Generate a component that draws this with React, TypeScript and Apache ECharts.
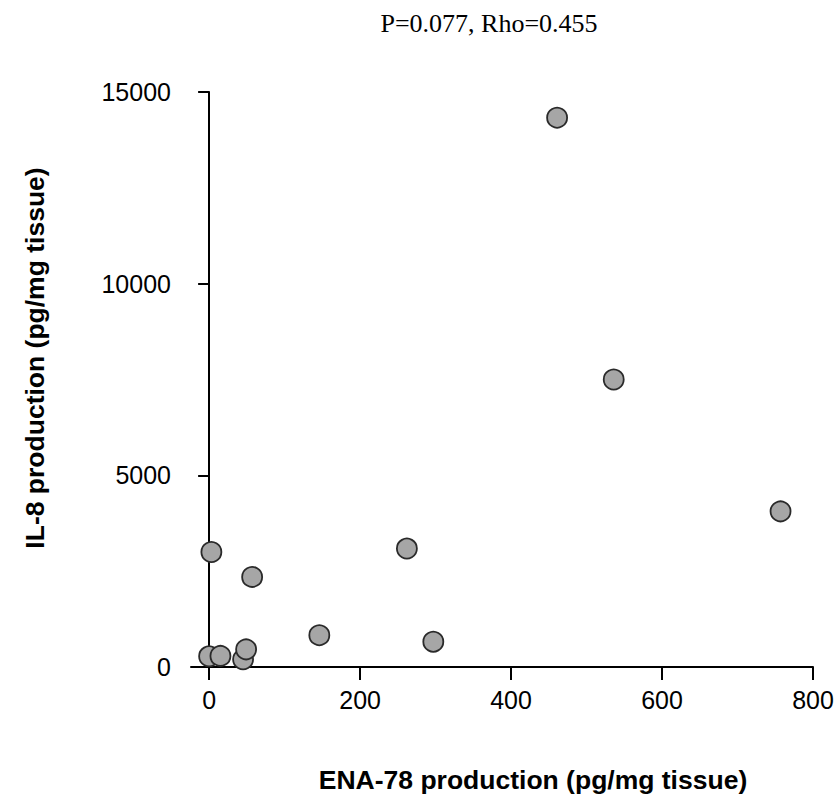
import React, { useEffect, useRef } from "react";
import * as echarts from "echarts";

const enaValues = [3, 0, 15, 45, 49, 57, 146, 262, 297, 461, 536, 757];
const il8Values = [3000, 280, 290, 200, 460, 2350, 830, 3090, 660, 14330, 7500, 4060];
const xTickValues = [0, 200, 400, 600, 800];
const titleText = "P=0.077, Rho=0.455";
const xTitle = "ENA-78 production (pg/mg tissue)";
const yTitle = "IL-8 production (pg/mg tissue)";

export default function App() {
  const ref = useRef<HTMLDivElement>(null);
  useEffect(() => {
    document.body.style.margin = "0";
    if (!ref.current) return;
    const chart = echarts.init(ref.current, undefined, { renderer: "svg" });
    const points = enaValues.map((x, i) => [x, il8Values[i]]);
    chart.setOption({
      animation: false,
      backgroundColor: "#ffffff",
      grid: { left: 191, right: 24, top: 92, bottom: 142, containLabel: false },
      xAxis: {
        type: "value",
        min: -24,
        max: 800,
        splitLine: { show: false },
        axisLine: { show: true, onZero: true, lineStyle: { color: "#000", width: 2 } },
        axisTick: {
          show: true,
          length: 13,
          customValues: xTickValues,
          lineStyle: { color: "#000", width: 2 },
        },
        axisLabel: {
          customValues: xTickValues,
          margin: 20,
          color: "#000",
          fontSize: 25,
          fontFamily: "Liberation Sans",
          formatter: (v: number) => String(v),
        },
      },
      yAxis: {
        type: "value",
        min: 0,
        max: 15000,
        interval: 5000,
        splitLine: { show: false },
        axisLine: { show: true, onZero: true, lineStyle: { color: "#000", width: 2 } },
        axisTick: { show: true, length: 11, lineStyle: { color: "#000", width: 2 } },
        axisLabel: {
          margin: 20,
          color: "#000",
          fontSize: 25,
          fontFamily: "Liberation Sans",
          formatter: (v: number) => String(v),
        },
      },
      graphic: [
        {
          type: "text",
          x: 489,
          y: 23,
          style: {
            text: titleText,
            align: "center",
            verticalAlign: "middle",
            fontSize: 26,
            fontFamily: "Liberation Serif",
            fill: "#000",
          },
        },
        {
          type: "text",
          x: 533,
          y: 780,
          style: {
            text: xTitle,
            align: "center",
            verticalAlign: "middle",
            fontSize: 26.5,
            fontWeight: "bold",
            fontFamily: "Liberation Sans",
            fill: "#000",
          },
        },
        {
          type: "text",
          x: 35,
          y: 358,
          rotation: Math.PI / 2,
          style: {
            text: yTitle,
            align: "center",
            verticalAlign: "middle",
            fontSize: 26.5,
            fontWeight: "bold",
            fontFamily: "Liberation Sans",
            fill: "#000",
          },
        },
      ],
      series: [
        {
          type: "scatter",
          data: points,
          symbol: "circle",
          symbolSize: 20,
          itemStyle: {
            color: "#a6a6a6",
            borderColor: "#2a2a2a",
            borderWidth: 1.8,
            opacity: 1,
          },
        },
      ],
    });
    return () => chart.dispose();
  }, []);
  return <div ref={ref} style={{ width: 837, height: 809 }} />;
}
